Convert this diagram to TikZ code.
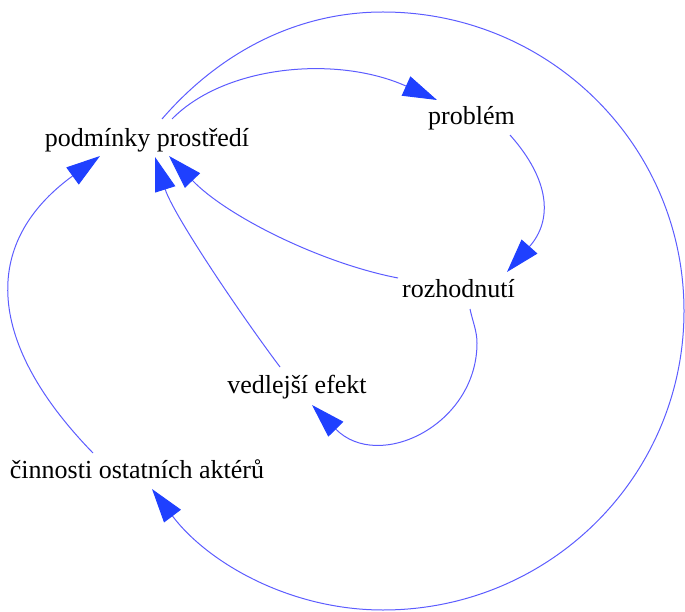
\documentclass[tikz,border=0pt]{standalone}
\usepackage{fontspec}
\setmainfont{Liberation Serif}
\usetikzlibrary{arrows.meta}
\definecolor{EdgeClr}{rgb}{0.36,0.36,1}
\definecolor{TipClr}{rgb}{0.12,0.25,1}

\begin{document}
\begin{tikzpicture}[x=1pt,y=-1pt,
  factor/.style={inner sep=0pt,anchor=base,font=\fontsize{26}{30}\selectfont},
  link/.style={draw=EdgeClr,line width=1pt,-{Triangle[length=34pt,width=21pt,color=TipClr]}}]
\useasboundingbox (0,0) rectangle (685,612);

% factors
\node[factor] (pod) at (147,147) {podmínky prostředí};
\node[factor] (prob) at (471.5,125) {problém};
\node[factor] (roz) at (458.5,298) {rozhodnutí};
\node[factor] (ved) at (297,393) {vedlejší efekt};
\node[factor] (cin) at (137,478) {činnosti ostatních aktérů};

% links
\draw[link] ([xshift=25pt,yshift=28pt]pod.base) .. controls (225,65) and (337,55) .. ([xshift=-34.5pt,yshift=25pt]prob.base);
\draw[link] ([xshift=15pt,yshift=28pt]pod.base) .. controls (219,53) and (296,12) .. (383,12)
  .. controls (549,12) and (684,145) .. (684,311)
  .. controls (684,477) and (549,610) .. (383,610)
  .. controls (290,610) and (208,563) .. ([xshift=15pt,yshift=-11pt]cin.base);
\draw[link] ([xshift=38.5pt,yshift=-10pt]prob.base) .. controls (550,180) and (553,220) .. ([xshift=48.5pt,yshift=26pt]roz.base);
\draw[link] ([xshift=-60.5pt,yshift=20pt]roz.base) .. controls (320.5,263) and (226.5,216) .. ([xshift=22pt,yshift=-9pt]pod.base);
\draw[link] ([xshift=11.5pt,yshift=-11pt]roz.base) .. controls (472.5,321) and (477,331) .. (477,343)
  .. controls (477,425) and (378.5,472.5) .. ([xshift=15pt,yshift=-12pt]ved.base);
\draw[link] ([xshift=-17pt,yshift=26pt]ved.base) .. controls (238,311) and (173,214) .. ([xshift=8pt,yshift=-10pt]pod.base);
\draw[link] ([xshift=-44pt,yshift=25pt]cin.base) .. controls (-12,345) and (-21.5,244.5) .. ([xshift=-47pt,yshift=-9pt]pod.base);

\end{tikzpicture}
\end{document}
